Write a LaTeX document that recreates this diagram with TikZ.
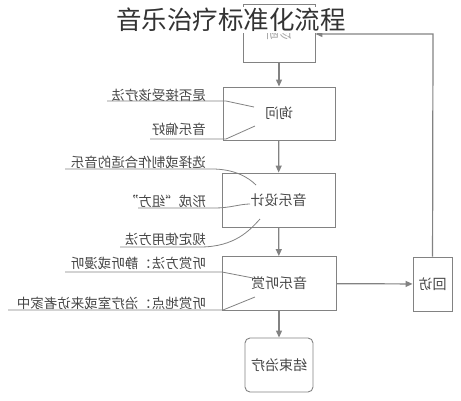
\documentclass[tikz,border=0pt]{standalone}
\usepackage{graphicx}
\usepackage{fontspec}
\setmainfont{Noto Sans CJK SC}
\usepackage{tikz}
\usetikzlibrary{shapes,arrows.meta}
\definecolor{linegray}{RGB}{130,130,130}
\definecolor{textgray}{RGB}{70,70,70}
\tikzset{
  stepbox/.style={rectangle, draw=linegray, line width=0.9pt, text=textgray, font=\fontsize{14}{16}\selectfont, inner sep=0pt},
  notetext/.style={anchor=east, text=textgray, font=\fontsize{13.5}{15}\selectfont, inner sep=0pt},
  flowline/.style={draw=linegray, line width=1.2pt},
  noteline/.style={draw=linegray, line width=0.8pt}
}
\newcommand{\flowstep}[5] {\node at (#1) (#2) [stepbox, minimum width=#4, minimum height=#5] {\reflectbox{#3}};}
\newcommand{\flowstop}[5] {\node at (#1) (#2) [stepbox, rounded corners=5pt, minimum width=#4, minimum height=#5] {\reflectbox{#3}};}
\newcommand{\flownote}[3] {\node at (#1) (#2) [notetext] {\reflectbox{#3}};}
\newcommand{\flowarrow}[2] {\draw [flowline, -{Triangle[length=7pt,width=6pt]}] (#1) -- (#2);}
\newcommand{\flowthree}[3] {\draw [flowline, -{Triangle[length=7pt,width=6pt]}] (#1) -- (#2) -- (#3);}

\begin{document}
\begin{tikzpicture}[x=1pt,y=-1pt]
\useasboundingbox (0,0) rectangle (461,400);

\flowstep {279,33}{diag}{\raisebox{-5pt}{\textcolor{linegray!70}{诊断}}}{72pt}{58pt}
\flowstep {279,113.5}{ask}{询问}{112pt}{53pt}
\flowstep {278.5,200}{design}{音乐设计}{113pt}{54pt}
\flowstep {279,283.5}{listen}{音乐听赏}{114pt}{54pt}
\flowstop {279,365}{finish}{结束治疗}{68pt}{54pt}
\flowstep {432.5,284}{visit}{回访}{39pt}{54pt}

\flowarrow {diag}{ask}
\flowarrow {ask}{design}
\flowarrow {design}{listen}
\flowarrow {listen}{finish}
\flowarrow {listen}{visit}

% feedback to diagnosis
\coordinate (visit1) at (433,34);
\coordinate (diag1) at (diag.east |- visit1);
\flowthree {visit}{visit1}{diag1}

% notes on the left
\flownote {206,95}{accept}{是否接受该疗法}
\coordinate (accept1) at (107,101);
\coordinate (accept2) at (226,101);
\coordinate (accept3) at (254,107);
\draw [noteline] (accept1) -- (accept2) -- (accept3);

\flownote {206,129}{taste}{音乐偏好}
\coordinate (taste1) at (150,139);
\coordinate (taste2) at (226,139);
\coordinate (taste3) at (255,126);
\draw [noteline] (taste1) -- (taste2) -- (taste3);

\flownote {206,162}{choose}{选择或制作合适的音乐}
\coordinate (choose1) at (65,169);
\coordinate (choose2) at (212,169);
\coordinate (choose3) at (256,185);
\draw [noteline] (choose1) -- (choose2) .. controls (234,169) and (248,177) .. (choose3);

\flownote {206,201}{recipe}{形成“组方”}
\coordinate (recipe1) at (138,208);
\coordinate (recipe2) at (215,208);
\coordinate (recipe3) at (250,204);
\draw [noteline] (recipe1) -- (recipe2) .. controls (230,208) and (240,204) .. (recipe3);

\flownote {206,239}{usage}{规定使用方法}
\coordinate (usage1) at (120,247);
\coordinate (usage2) at (200,247);
\coordinate (usage3) at (260,219);
\draw [noteline] (usage1) -- (usage2) .. controls (235,247) and (250,230) .. (usage3);

\flownote {206,263}{how}{听赏方法：静听或漫听}
\coordinate (how1) at (65,272);
\coordinate (how2) at (222,272);
\coordinate (how3) at (253,278);
\draw [noteline] (how1) -- (how2) -- (how3);

\flownote {206,303}{where}{听赏地点：治疗室或来访者家中}
\coordinate (where1) at (8,310);
\coordinate (where2) at (223,310);
\coordinate (where3) at (255,297);
\draw [noteline] (where1) -- (where2) -- (where3);

% title over the top box
\node at (231,20) (title) [fill=white, inner xsep=2pt, inner ysep=1pt, text=black!80, font=\fontsize{25.5}{28}\selectfont] {音乐治疗标准化流程};

\end{tikzpicture}
\end{document}
